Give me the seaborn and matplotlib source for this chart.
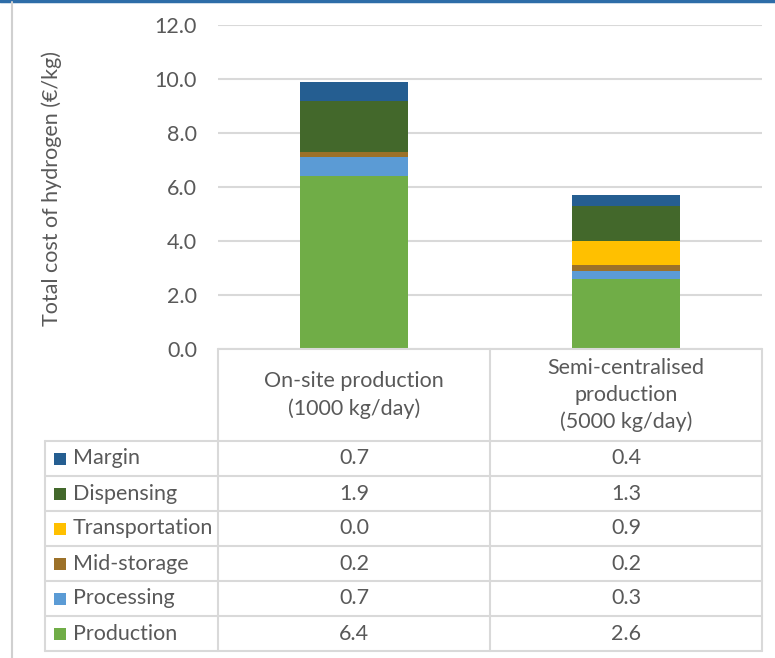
import numpy as np
import pandas as pd
import matplotlib
matplotlib.use("Agg")
import matplotlib.pyplot as plt
import seaborn as sns
from matplotlib.patches import Rectangle

# Cost breakdown of hydrogen (€/kg) for two supply configurations
categories = ["On-site production\n(1000 kg/day)",
              "Semi-centralised\nproduction\n(5000 kg/day)"]
components = ["Production", "Processing", "Mid-storage",
              "Transportation", "Dispensing", "Margin"]
onsite = [6.4, 0.7, 0.2, 0.0, 1.9, 0.7]
semi = [2.6, 0.3, 0.2, 0.9, 1.3, 0.4]
yticks = [0.0, 2.0, 4.0, 6.0, 8.0, 10.0, 12.0]
ylabel = "Total cost of hydrogen (€/kg)"

colors = ["#70AD47", "#5B9BD5", "#9C7129", "#FFC000", "#43682B", "#255E91"]
TEXT = "#595959"
GRID = "#D9D9D9"
FS = 15.5

sns.set_theme(style="white")
plt.rcParams["font.family"] = ["Lato", "DejaVu Sans"]

W, H = 775, 658
fig = plt.figure(figsize=(W / 100, H / 100), dpi=100)
fig.patch.set_facecolor("white")

# plotting area (pixel box 218..762 x 25..349)
ax = fig.add_axes([218 / W, 1 - 349 / H, 544 / W, 324 / H])

bottom = np.zeros(len(categories))
for i, (name, col) in enumerate(zip(components, colors)):
    vals = np.array([onsite[i], semi[i]])
    sns.barplot(x=categories, y=vals, bottom=bottom, color=col,
                width=0.4, ax=ax, linewidth=0, saturation=1, zorder=3)
    bottom = bottom + vals

ax.set_xlim(-0.5, 1.5)
ax.set_ylim(0, 12)
ax.set_yticks(yticks)
ax.set_yticklabels([f"{t:.1f}" for t in yticks], color=TEXT, fontsize=FS)
ax.tick_params(axis="y", length=0, pad=15)
ax.set_xticks([])
ax.set_xlabel("")
ax.set_ylabel("")
ax.grid(axis="y", color=GRID, linewidth=1.5, zorder=0)
for s in ax.spines.values():
    s.set_visible(False)

# overlay in pixel coordinates for the data table and frame
ov = fig.add_axes([0, 0, 1, 1])
ov.set_xlim(0, W)
ov.set_ylim(H, 0)
ov.axis("off")

# outer frame pieces
ov.plot([0, W], [1, 1], color="#2E6DA8", linewidth=2.5)
ov.plot([12, 12], [2, H], color="#D0D0D0", linewidth=1.5)

ov.text(52, 188, ylabel, rotation=90, ha="center", va="center",
        color=TEXT, fontsize=FS)

# table grid
col_x = [218, 490, 762]
head_top, head_bot = 349, 441
row_h = 35
row_edges = [head_bot + k * row_h for k in range(len(components) + 1)]
lw = 1.5
ov.plot([218, 762], [head_top, head_top], color=GRID, lw=lw)
for x in col_x:
    ov.plot([x, x], [head_top, row_edges[-1]], color=GRID, lw=lw)
ov.plot([45, 45], [head_bot, row_edges[-1]], color=GRID, lw=lw)
for y in row_edges:
    ov.plot([45, 762], [y, y], color=GRID, lw=lw)

# header labels
centers = [(col_x[k] + col_x[k + 1]) / 2 for k in range(2)]
for cx, cat in zip(centers, categories):
    ov.text(cx, (head_top + head_bot) / 2, cat, ha="center", va="center",
            color=TEXT, fontsize=FS, linespacing=1.4)

# rows: top row is last series
for r, idx in enumerate(reversed(range(len(components)))):
    yc = row_edges[r] + row_h / 2
    ov.add_patch(Rectangle((54, yc - 6), 12, 12, color=colors[idx], lw=0))
    ov.text(73, yc, components[idx], ha="left", va="center",
            color=TEXT, fontsize=FS)
    for cx, vals in zip(centers, [onsite, semi]):
        ov.text(cx, yc, f"{vals[idx]:.1f}", ha="center", va="center",
                color=TEXT, fontsize=FS)

fig.savefig("out.png", dpi=100)
